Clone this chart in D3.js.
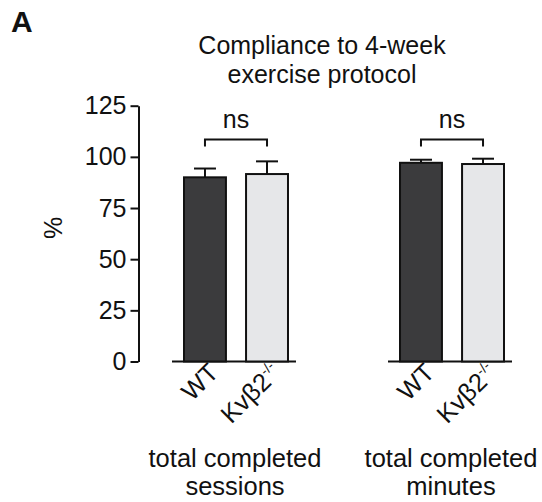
<!DOCTYPE html>
<html>
<head>
<meta charset="utf-8">
<script src="https://cdn.jsdelivr.net/npm/d3@7"></script>
<style>
  html, body { margin: 0; padding: 0; background: #fff; }
  svg { display: block; font-family: "Liberation Sans", Arial, Helvetica, sans-serif; }
</style>
</head>
<body>
<svg id="chart" width="542" height="502"></svg>
<script>
// Compliance data: mean % and SEM for each measure and genotype
const measures = ["sessions", "minutes"];
const measureLabels = [["total completed", "sessions"], ["total completed", "minutes"]];
const genotypes = ["WT", "KO"];
const meanSessions = [90.0, 91.6];
const semSessions = [4.3, 6.2];
const meanMinutes = [97.1, 96.5];
const semMinutes = [1.5, 2.6];
const yTicks = [0, 25, 50, 75, 100, 125];
const significance = ["ns", "ns"];

const rows = [];
measures.forEach((m, i) => {
  const means = i === 0 ? meanSessions : meanMinutes;
  const sems = i === 0 ? semSessions : semMinutes;
  genotypes.forEach((g, j) => rows.push({ measure: m, genotype: g, mean: means[j], sem: sems[j] }));
});

const svg = d3.select("#chart");
const ink = "#111";
const fills = { WT: "#3b3b3d", KO: "#e6e7e9" };

const y = d3.scaleLinear().domain([0, 125]).range([361.5, 105.7]);
const x0 = d3.scaleBand().domain(measures).range([172, 512]).paddingInner(0.426);
const x1 = d3.scaleBand().domain(genotypes).range([12, x0.bandwidth() - 8]).paddingInner(0.324);

// Panel letter
svg.append("text").attr("x", 11).attr("y", 32)
  .attr("font-size", 30).attr("font-weight", "bold").attr("fill", ink).text("A");

// Title
const title = svg.append("text").attr("text-anchor", "middle").attr("font-size", 25).attr("fill", ink);
title.append("tspan").attr("x", 322).attr("y", 54).text("Compliance to 4-week");
title.append("tspan").attr("x", 322).attr("y", 83).text("exercise protocol");

// Y axis
const yAxis = svg.append("g").attr("transform", "translate(138.5,0)")
  .call(d3.axisLeft(y).tickValues(yTicks).tickSize(8).tickSizeOuter(0).tickPadding(4));
yAxis.select(".domain").attr("stroke", ink).attr("stroke-width", 2);
yAxis.selectAll(".tick line").attr("stroke", ink).attr("stroke-width", 2);
yAxis.selectAll(".tick text").attr("font-size", 25).attr("fill", ink)
  .attr("font-family", "'Liberation Sans', Arial, sans-serif");

svg.append("text").attr("transform", "translate(62,228) rotate(-90)")
  .attr("text-anchor", "middle").attr("font-size", 25).attr("fill", ink).text("%");

// Groups
const groups = svg.selectAll("g.group").data(measures).join("g")
  .attr("class", "group")
  .attr("transform", d => `translate(${x0(d)},0)`);

// Baseline under each group
groups.append("line")
  .attr("x1", 0).attr("x2", x0.bandwidth())
  .attr("y1", y(0)).attr("y2", y(0))
  .attr("stroke", ink).attr("stroke-width", 2);

// Error bars (upper only)
groups.each(function (m) {
  const g = d3.select(this);
  const data = rows.filter(r => r.measure === m);
  const cx = d => x1(d.genotype) + x1.bandwidth() / 2;
  g.selectAll("line.err").data(data).join("line").attr("class", "err")
    .attr("x1", cx).attr("x2", cx)
    .attr("y1", d => y(d.mean)).attr("y2", d => y(d.mean + d.sem))
    .attr("stroke", ink).attr("stroke-width", 2);
  g.selectAll("line.cap").data(data).join("line").attr("class", "cap")
    .attr("x1", d => cx(d) - 11).attr("x2", d => cx(d) + 11)
    .attr("y1", d => y(d.mean + d.sem)).attr("y2", d => y(d.mean + d.sem))
    .attr("stroke", ink).attr("stroke-width", 2);
  g.selectAll("rect.bar").data(data).join("rect").attr("class", "bar")
    .attr("x", d => x1(d.genotype)).attr("width", x1.bandwidth())
    .attr("y", d => y(d.mean)).attr("height", d => y(0) - y(d.mean))
    .attr("fill", d => fills[d.genotype]).attr("stroke", ink).attr("stroke-width", 2);

  // Significance bracket
  const i = measures.indexOf(m);
  const bx1 = x1("WT") + x1.bandwidth() / 2, bx2 = x1("KO") + x1.bandwidth() / 2;
  const by = 139.5;
  g.append("path")
    .attr("d", `M${bx1},${by + 7}V${by}H${bx2}V${by + 7}`)
    .attr("fill", "none").attr("stroke", ink).attr("stroke-width", 2);
  g.append("text").attr("x", (bx1 + bx2) / 2).attr("y", 128)
    .attr("text-anchor", "middle").attr("font-size", 25).attr("fill", ink).text(significance[i]);

  // Rotated genotype labels
  data.forEach(d => {
    const t = g.append("text")
      .attr("transform", `translate(${cx(d) + 15},${374}) rotate(-45)`)
      .attr("text-anchor", "end").attr("font-size", 25.5).attr("fill", ink);
    if (d.genotype === "WT") {
      t.text("WT");
    } else {
      t.append("tspan").text("Kvβ2");
      t.append("tspan").attr("font-size", 14).attr("dy", -10).text("-/-");
    }
  });

  // Measure label
  const lab = g.append("text").attr("text-anchor", "middle").attr("font-size", 25.5).attr("fill", ink);
  measureLabels[i].forEach((s, k) => {
    lab.append("tspan").attr("x", x0.bandwidth() / 2 + 1).attr("y", 467 + k * 28).text(s);
  });
});
</script>
</body>
</html>
